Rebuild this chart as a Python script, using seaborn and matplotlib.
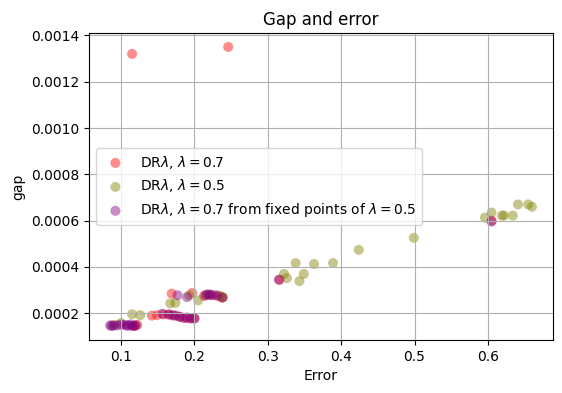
import matplotlib
matplotlib.use("Agg")
import matplotlib.pyplot as plt
import seaborn as sns
import pandas as pd

# DR lambda = 0.7
red_x = [0.115, 0.246, 0.118, 0.122, 0.142, 0.149, 0.158, 0.165, 0.172, 0.18, 0.188,
         0.195, 0.2, 0.169, 0.197, 0.213, 0.222, 0.232, 0.238, 0.316, 0.605]
red_y = [0.00132, 0.00135, 0.000145, 0.00015, 0.00019, 0.000192, 0.000195, 0.000195,
         0.00019, 0.000185, 0.00018, 0.000178, 0.000178, 0.000285, 0.000288, 0.000275,
         0.00028, 0.000275, 0.000268, 0.000345, 0.0006]

# DR lambda = 0.5
olive_x = [0.09, 0.1, 0.115, 0.126, 0.167, 0.174, 0.193, 0.205, 0.217, 0.235, 0.239,
           0.322, 0.326, 0.338, 0.343, 0.349, 0.363, 0.389, 0.424, 0.499, 0.596, 0.605,
           0.619, 0.622, 0.634, 0.641, 0.655, 0.66]
olive_y = [0.00015, 0.000158, 0.000196, 0.000192, 0.000243, 0.000245, 0.000278, 0.000256,
           0.00028, 0.000275, 0.00027, 0.00037, 0.000352, 0.000417, 0.000339, 0.00037,
           0.000413, 0.000417, 0.000474, 0.000526, 0.000613, 0.000635, 0.000622, 0.000622,
           0.000622, 0.00067, 0.00067, 0.00066]

# DR lambda = 0.7 from fixed points of lambda = 0.5
purple_x = [0.085, 0.087, 0.09, 0.095, 0.1, 0.105, 0.108, 0.11, 0.113, 0.115, 0.118, 0.12,
            0.156, 0.165, 0.17, 0.175, 0.18, 0.185, 0.19, 0.195, 0.2,
            0.177, 0.19, 0.215, 0.218, 0.221, 0.225, 0.23, 0.238, 0.315, 0.605]
purple_y = [0.000148, 0.000145, 0.000147, 0.000148, 0.000151, 0.00015, 0.000146, 0.000148,
            0.000152, 0.000145, 0.000147, 0.000148,
            0.000198, 0.000195, 0.000192, 0.00019, 0.000185, 0.00018, 0.000182, 0.000178,
            0.000178, 0.000278, 0.00027, 0.000278, 0.000282, 0.00028, 0.000278, 0.000278,
            0.000268, 0.000345, 0.000596]

labels = [r"DR$\lambda$, $\lambda=0.7$",
          r"DR$\lambda$, $\lambda=0.5$",
          r"DR$\lambda$, $\lambda=0.7$ from fixed points of $\lambda=0.5$"]

fig = plt.figure(figsize=(5.62, 3.93), dpi=100)
ax = fig.add_axes([89 / 562, 1 - 340 / 393, (553 - 89) / 562, (340 - 33) / 393])

series = [(red_x, red_y, "red"), (olive_x, olive_y, "olive"), (purple_x, purple_y, "purple")]
for (xs, ys, c), lab in zip(series, labels):
    df = pd.DataFrame({"Error": xs, "gap": ys})
    sns.scatterplot(data=df, x="Error", y="gap", color=c, alpha=0.45, s=52,
                    edgecolor="none", label=lab, ax=ax)

ax.grid(True)
ax.set_title("Gap and error")
ax.set_xlabel("Error")
ax.set_ylabel("gap")
ax.legend(loc="center left")
fig.savefig("out.png", dpi=100)
